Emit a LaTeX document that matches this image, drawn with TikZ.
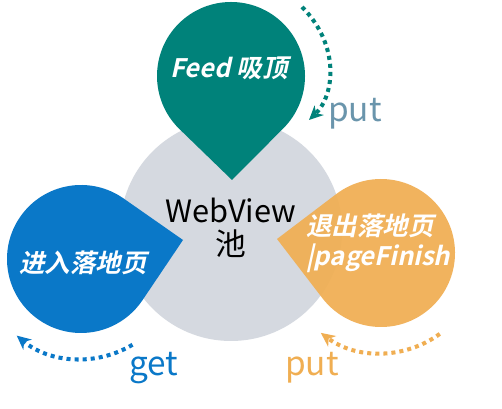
\documentclass[tikz,border=0pt]{standalone}
\usepackage{fontspec}
\setmainfont{Noto Sans CJK SC}
\newfontfamily\tagfont{Noto Sans CJK SC Bold}[FakeSlant=0.22]
\usetikzlibrary{arrows.meta,calc}
\definecolor{poolgray}{HTML}{D5D9E0}
\definecolor{tealc}{HTML}{00827A}
\definecolor{bluec}{HTML}{0A78C8}
\definecolor{orangec}{HTML}{F0AE52}
\definecolor{putgray}{HTML}{6A95AC}
\tikzset{
  droptext/.style={text=white,font=\tagfont\fontsize{14.5pt}{17pt}\selectfont,inner sep=0pt},
  looptext/.style={font=\fontsize{19pt}{22pt}\selectfont,inner sep=0pt},
  dotarrow/.style={line width=2.3pt,dash pattern=on 2.3pt off 2.3pt,
    -{Stealth[length=8pt,width=7.5pt,inset=2.5pt]}}
}
\begin{document}
\begin{tikzpicture}[x=0.02cm,y=0.02cm]
\fill[white] (0,0) rectangle (502,408);
\useasboundingbox (0,0) rectangle (502,408);
% pool
\fill[poolgray] (231,178) circle[radius=111];
% teal drop
\fill[tealc] (232,228) -- ($(231,332)+(-45:74)$) arc[start angle=-45,end angle=225,radius=74] -- cycle;
% blue drop
\fill[bluec] (183,168) -- ($(81,149)+(55:74)$) arc[start angle=55,end angle=326,radius=74] -- cycle;
% orange drop
\fill[orangec,opacity=0.93] (277,169) -- ($(381,155)+(217.5:74)$) arc[start angle=217.5,end angle=487.1,radius=74] -- cycle;
% texts
\node[droptext] (feed) at (229,340) {Feed 吸顶};
\node[droptext] (enter) at (83,145) {进入落地页};
\node[droptext,anchor=west,align=left] (exit) at (306,165) {退出落地页\\|pageFinish};
\node[font=\fontsize{17.5pt}{19pt}\selectfont,align=center,inner sep=0pt] (pool) at (231,180) {WebView\\池};
% loops
\coordinate (t1) at (302,401);
\coordinate (t2) at (309,288);
\draw[dotarrow,tealc] (t1) .. controls (340,363) and (335,313) .. (t2);
\node[looptext,text=putgray] (put1) at (355,294) {put};
\coordinate (b1) at ($(81,149)+(-59:100)$);
\draw[dotarrow,bluec] (b1) arc[start angle=-59,end angle=-130,radius=100];
\node[looptext,text=bluec] (get) at (154,40) {get};
\coordinate (o1) at ($(381,155)+(-54:100)$);
\draw[dotarrow,orangec] (o1) arc[start angle=-54,end angle=-127,radius=100];
\node[looptext,text=orangec] (put2) at (312,40) {put};
\end{tikzpicture}
\end{document}
